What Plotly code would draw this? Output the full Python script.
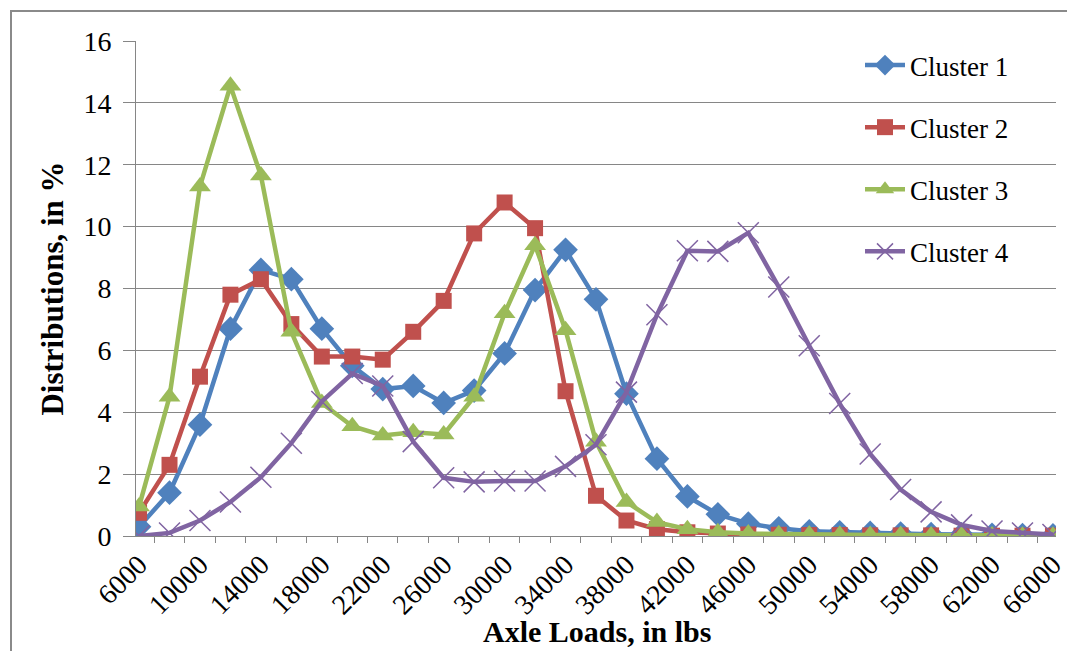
import plotly.graph_objects as go

axle_loads = list(range(6000, 66001, 2000))
tick_labels = [str(v) for v in range(6000, 66001, 4000)]

cluster1 = [0.3, 1.4, 3.6, 6.7, 8.6, 8.3, 6.7, 5.5, 4.75, 4.85, 4.3, 4.7, 5.9, 7.95, 9.25,
            7.65, 4.6, 2.5, 1.28, 0.7, 0.4, 0.25, 0.15, 0.12, 0.1, 0.08, 0.06, 0.05, 0.04, 0.03, 0.02]
cluster2 = [0.75, 2.3, 5.15, 7.8, 8.3, 6.85, 5.8, 5.8, 5.7, 6.6, 7.6, 9.78, 10.78, 9.95, 4.68,
            1.3, 0.5, 0.22, 0.12, 0.08, 0.05, 0.04, 0.03, 0.03, 0.02, 0.02, 0.02, 0.01, 0.01, 0.01, 0.01]
cluster3 = [0.95, 4.5, 11.3, 14.55, 11.65, 6.6, 4.3, 3.55, 3.25, 3.35, 3.28, 4.5, 7.2, 9.4, 6.65,
            3.05, 1.1, 0.45, 0.22, 0.12, 0.08, 0.06, 0.05, 0.04, 0.03, 0.03, 0.02, 0.02, 0.02, 0.01, 0.01]
cluster4 = [0.0, 0.1, 0.5, 1.1, 1.9, 3.0, 4.35, 5.25, 4.85, 3.05, 1.88, 1.75, 1.78, 1.78, 2.25,
            2.95, 4.65, 7.15, 9.22, 9.2, 9.8, 8.05, 6.15, 4.28, 2.65, 1.5, 0.78, 0.36, 0.16, 0.1, 0.05]

series = [
    ("Cluster 1", cluster1, "#4F81BD", "diamond", 19),
    ("Cluster 2", cluster2, "#C0504D", "square", 16),
    ("Cluster 3", cluster3, "#9BBB59", "triangle-up", 19),
    ("Cluster 4", cluster4, "#8064A2", "x-thin-open", 21),
]

fig = go.Figure()
for i, (name, vals, color, sym, size) in enumerate(series):
    fig.add_trace(go.Scatter(
        x=axle_loads, y=vals, name=name, mode="lines+markers",
        legendgroup=f"g{i}",
        line=dict(color=color, width=4.5),
        marker=dict(symbol=sym, size=size, color=color,
                    line=dict(color=color, width=1.5 if sym.startswith("x") else 0)),
    ))

FONT = "Liberation Serif, Times New Roman, serif"
W, H = 1075, 651
L, R, T, B = 128, 27, 33, 123
pw, ph = W - L - R, H - T - B

def px2paper(x, y):
    return (x - L) / pw, (H - B - y) / ph

x0, y0 = px2paper(3, 3)
x1, y1 = px2paper(1069, 660)
lx0, ly0 = px2paper(818, 40)
lx1, ly1 = px2paper(1048, 292)
tx, ty = px2paper(589, 623)

fig.update_layout(
    width=W, height=H,
    margin=dict(l=L, r=R, t=T, b=B, autoexpand=False),
    paper_bgcolor="white", plot_bgcolor="white",
    font=dict(family=FONT, size=28, color="black"),
    showlegend=True,
    legend=dict(
        x=(852 - L) / pw, y=(H - B - 33) / ph, xanchor="left", yanchor="top",
        bgcolor="rgba(0,0,0,0)", borderwidth=0,
        font=dict(family=FONT, size=27, color="black"),
        tracegroupgap=24, traceorder="grouped", itemwidth=40,
    ),
    shapes=[
        dict(type="rect", xref="paper", yref="paper", x0=lx0, x1=lx1, y0=ly1, y1=ly0,
             fillcolor="white", line=dict(width=0), layer="between"),
        dict(type="rect", xref="paper", yref="paper", x0=x0, x1=x1, y0=y1, y1=y0,
             line=dict(color="#8a8a8a", width=2), fillcolor="rgba(0,0,0,0)", layer="above"),
    ],
    annotations=[
        dict(text="<b>Axle Loads, in lbs</b>", xref="paper", yref="paper", x=tx, y=ty,
             xanchor="center", yanchor="middle", showarrow=False,
             font=dict(family=FONT, size=30, color="black")),
    ],
    xaxis=dict(
        range=[5800, 66200], showgrid=False, zeroline=False,
        tickmode="array", tickvals=[int(t) for t in tick_labels], ticktext=tick_labels,
        tickangle=-45, ticks="", tickfont=dict(family=FONT, size=28),
        showline=True, linecolor="#868686", linewidth=1,
        minor=dict(tick0=7000, dtick=2000, ticks="outside", ticklen=6,
                   tickcolor="#868686", tickwidth=1, showgrid=False),
    ),
    yaxis=dict(
        range=[0, 16], tickvals=list(range(0, 17, 2)),
        showgrid=True, gridcolor="#868686", gridwidth=1, zeroline=False,
        showline=True, linecolor="#868686", linewidth=1,
        ticks="outside", ticklen=12, tickcolor="#868686", ticklabelstandoff=6,
        tickfont=dict(family=FONT, size=28),
        title=dict(text="<b>Distributions, in %</b>", font=dict(family=FONT, size=31), standoff=10),
    ),
)

fig.write_html("out.html")
